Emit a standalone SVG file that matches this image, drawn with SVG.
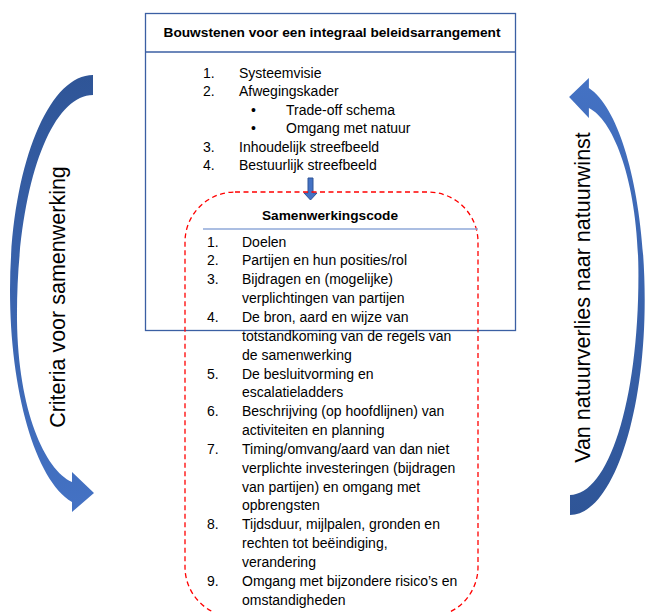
<svg xmlns="http://www.w3.org/2000/svg" width="646" height="612" viewBox="0 0 646 612">
  <defs>
    <linearGradient id="gl" x1="0" y1="0" x2="0" y2="1">
      <stop offset="0" stop-color="#2f5597"/>
      <stop offset="1" stop-color="#4472c4"/>
    </linearGradient>
    <path id="curved" d="M 93,75 C 47,75 10,171 10,290 C 10,390 35,480 72,502 L 72,512 L 94,493 L 72,472 L 72,482 C 45,470 18,410 17,320 C 16,190 50,95 93,95 Z"/>
  </defs>
  <style>
    text { font-family: "Liberation Sans", Arial, sans-serif; fill: #000; }
    .t { font-size: 14px; }
    .h { font-size: 13.7px; font-weight: bold; }
    .v { font-size: 21.5px; }
    .box { fill: #fff; stroke: #3b5fa3; stroke-width: 1.3; }
    .div { stroke: #3b5fa3; stroke-width: 1.3; }
    .div2 { stroke: #8fa9d8; stroke-width: 1.3; }
    .dash { fill: none; stroke: #ff0000; stroke-width: 1.3; stroke-dasharray: 5 3.5; }
  </style>
  <rect width="646" height="612" fill="#fff"/>

  <g id="arrow-left">
    <use href="#curved" fill="url(#gl)"/>
  </g>
  <g id="arrow-right">
    <use href="#curved" fill="url(#gl)" transform="matrix(-0.9,0,0,-1,653.7,590)"/>
  </g>
  <g id="label-left">
    <text class="v" text-anchor="middle" transform="translate(64.5,297) rotate(-90)">Criteria voor samenwerking</text>
  </g>
  <g id="label-right">
    <text class="v" text-anchor="middle" transform="translate(590,297.5) rotate(-90)">Van natuurverlies naar natuurwinst</text>
  </g>

  <g id="bouwstenen">
    <rect class="box" x="145.5" y="13.5" width="370" height="317"/>
    <line class="div" x1="145.5" y1="52" x2="515.5" y2="52"/>
    <text class="h" x="332" y="37" text-anchor="middle">Bouwstenen voor een integraal beleidsarrangement</text>
    <text class="t" x="203" y="77.5">1.</text><text class="t" x="239" y="77.5">Systeemvisie</text>
    <text class="t" x="203" y="96">2.</text><text class="t" x="239" y="96">Afwegingskader</text>
    <text class="t" x="251" y="114.5">•</text><text class="t" x="286" y="114.5">Trade-off schema</text>
    <text class="t" x="251" y="133">•</text><text class="t" x="286" y="133">Omgang met natuur</text>
    <text class="t" x="203" y="151.5">3.</text><text class="t" x="239" y="151.5">Inhoudelijk streefbeeld</text>
    <text class="t" x="203" y="170">4.</text><text class="t" x="239" y="170">Bestuurlijk streefbeeld</text>
  </g>

  <g id="connectors">
    <path d="M 308,178 L 313,178 L 313,193 L 317,193 L 310.5,200 L 304,193 L 308,193 Z" fill="#4472c4" stroke="#2f5597" stroke-width="1"/>
  </g>

  <g id="samenwerkingscode">
    <rect class="dash" x="185" y="192" width="293" height="425" rx="50" ry="50"/>
    <line class="div2" x1="203" y1="229" x2="478" y2="229"/>
    <text class="h" x="330" y="220" text-anchor="middle">Samenwerkingscode</text>
    <text class="t" x="207" y="246.5">1.</text><text class="t" x="242" y="246.5">Doelen</text>
    <text class="t" x="207" y="265.4">2.</text><text class="t" x="242" y="265.4">Partijen en hun posities/rol</text>
    <text class="t" x="207" y="284.2">3.</text><text class="t" x="242" y="284.2">Bijdragen en (mogelijke)</text>
    <text class="t" x="242" y="303.1">verplichtingen van partijen</text>
    <text class="t" x="207" y="321.9">4.</text><text class="t" x="242" y="321.9">De bron, aard en wijze van</text>
    <text class="t" x="242" y="340.8">totstandkoming van de regels van</text>
    <text class="t" x="242" y="359.6">de samenwerking</text>
    <text class="t" x="207" y="378.5">5.</text><text class="t" x="242" y="378.5">De besluitvorming en</text>
    <text class="t" x="242" y="397.3">escalatieladders</text>
    <text class="t" x="207" y="416.2">6.</text><text class="t" x="242" y="416.2">Beschrijving (op hoofdlijnen) van</text>
    <text class="t" x="242" y="435">activiteiten en planning</text>
    <text class="t" x="207" y="453.9">7.</text><text class="t" x="242" y="453.9">Timing/omvang/aard van dan niet</text>
    <text class="t" x="242" y="472.7">verplichte investeringen (bijdragen</text>
    <text class="t" x="242" y="491.6">van partijen) en omgang met</text>
    <text class="t" x="242" y="510.4">opbrengsten</text>
    <text class="t" x="207" y="529.3">8.</text><text class="t" x="242" y="529.3">Tijdsduur, mijlpalen, gronden en</text>
    <text class="t" x="242" y="548.1">rechten tot beëindiging,</text>
    <text class="t" x="242" y="567">verandering</text>
    <text class="t" x="207" y="585.8">9.</text><text class="t" x="242" y="585.8">Omgang met bijzondere risico’s en</text>
    <text class="t" x="242" y="604.7">omstandigheden</text>
  </g>
</svg>
